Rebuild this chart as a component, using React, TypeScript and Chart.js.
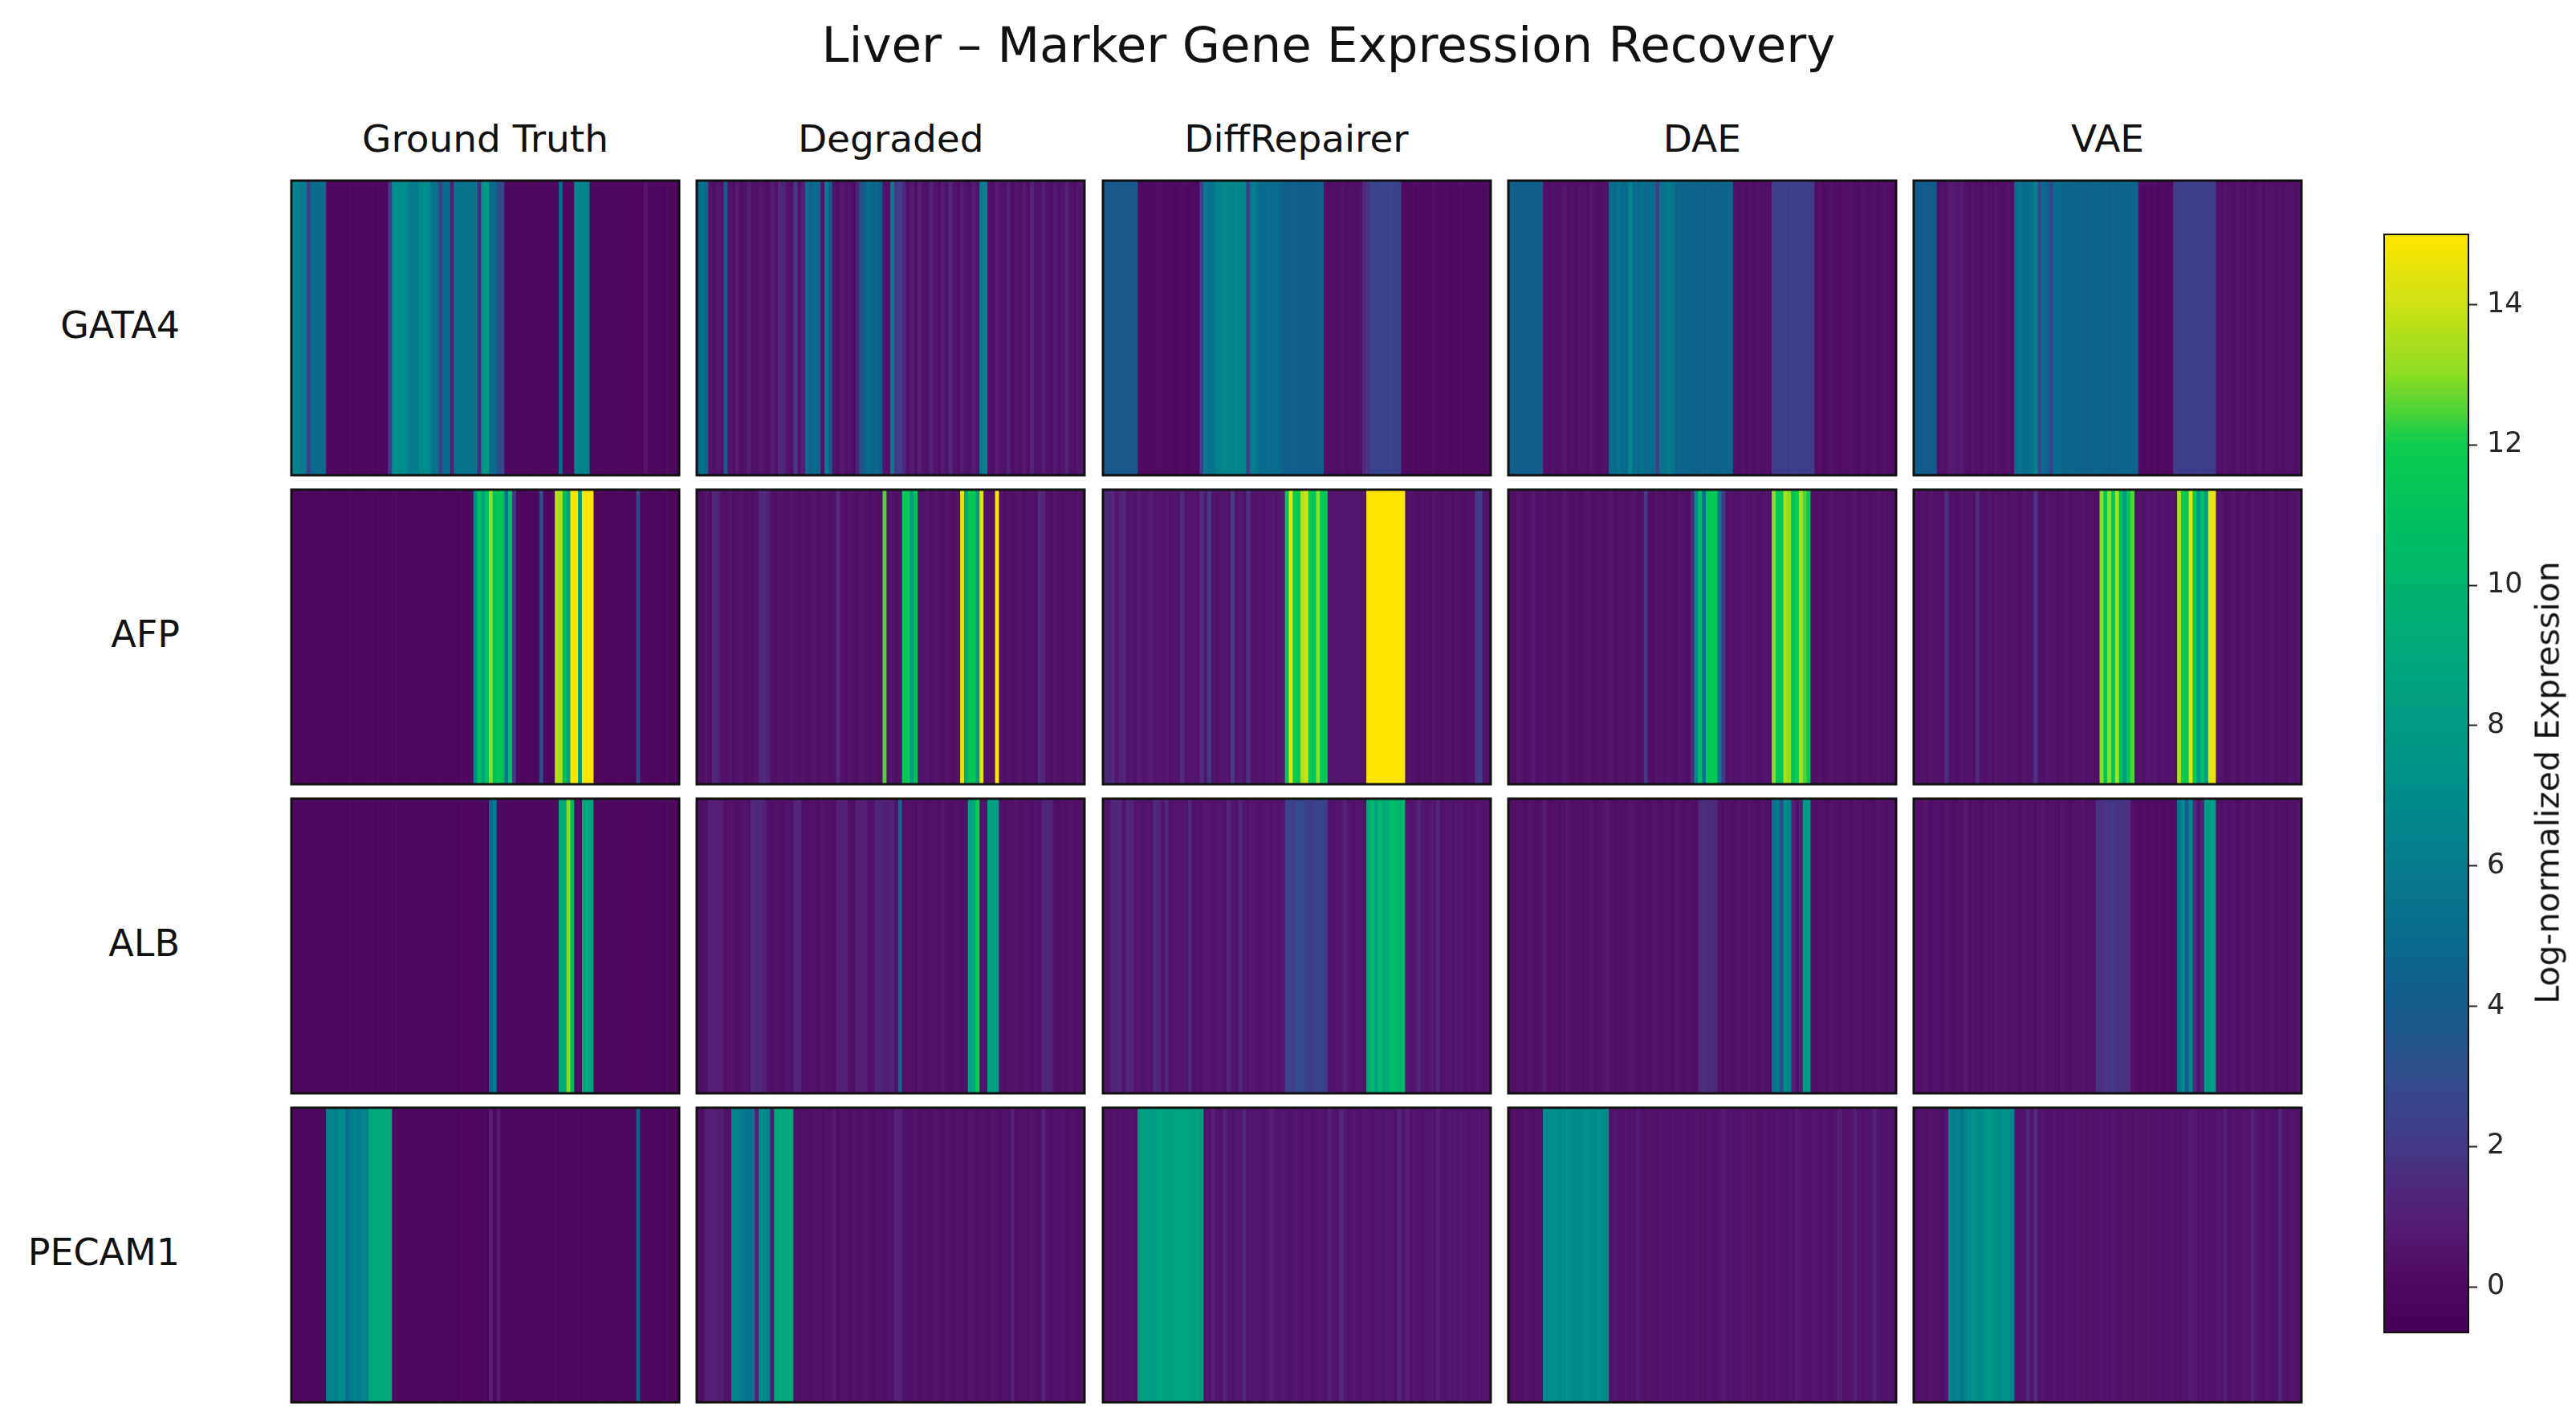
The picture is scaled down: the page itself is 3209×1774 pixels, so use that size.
import React, { useEffect, useRef } from "react";
import { Chart, registerables } from "chart.js";

Chart.register(...registerables);

// ---------------- text ----------------
const TITLE = "Liver – Marker Gene Expression Recovery";
const METHODS = ["Ground Truth", "Degraded", "DiffRepairer", "DAE", "VAE"];
const GENES = ["GATA4", "AFP", "ALB", "PECAM1"];
const COLORBAR_LABEL = "Log-normalized Expression";
const COLORBAR_TICKS = [0, 2, 4, 6, 8, 10, 12, 14];
const V_MIN = -0.65;
const V_MAX = 15;

// ---------------- data (one value per cell, 100 cells) ----------------
const GATA4_GROUND_TRUTH = [
  6.5, 6.5, 6, 6, 2.5, 5, 5, 5, 5, 0,
  0, 0, 0, 0, 0, 0, 0, 0, 0, 0,
  0, 0, 0, 0, 0, 2, 7, 7, 7, 7,
  6, 6, 6, 7, 7, 7, 5.5, 5.5, 2.5, 5,
  5, 1, 5.5, 5.5, 5.5, 5.5, 5.5, 5.5, 1.5, 7.5,
  8, 5, 5, 3, 3, 0, 0, 0, 0, 0,
  0, 0, 0, 0, 0, 0, 0, 0, 0, 5,
  0, 0, 0, 6.5, 6.5, 6.5, 6.5, 0, 0, 0,
  0, 0, 0, 0, 0, 0, 0, 0, 0, 0,
  0, 0.6, 0, 0, 0, 0, 0, 0, 0, 0,
];
const GATA4_DEGRADED = [
  5, 5.5, 5, 0.5, 0.3, 0.6, 0.4, 4, 0.5, 0.3,
  0.8, 0.3, 0.5, 1, 0.4, 0.3, 0.7, 0.5, 0.3, 0.9,
  0.4, 1.5, 1.2, 0.5, 0.3, 2, 0.5, 1, 5, 4.5,
  5, 4.5, 0.5, 6, 4, 0.5, 0.3, 0.8, 0.4, 0.6,
  0.3, 1.2, 3.5, 4.5, 5, 4.5, 5, 4, 0.5, 0.4,
  6, 2, 2.5, 1.5, 0.4, 0.8, 0.3, 1, 0.5, 0.4,
  1.2, 0.5, 0.3, 0.9, 0.4, 1.3, 0.5, 0.3, 0.8, 0.5,
  0.4, 0.9, 0.5, 6, 6.5, 0.5, 0.3, 0.9, 0.5, 0.4,
  1, 0.3, 0.6, 0.4, 0.8, 0.3, 1.2, 0.5, 0.4, 1,
  0.5, 0.3, 0.8, 0.4, 0.6, 1.1, 0.4, 0.3, 0.7, 0.5,
];
const GATA4_DIFFREPAIRER = [
  3.8, 3.8, 3.8, 3.8, 3.8, 3.8, 3.8, 3.8, 3.8, 0.2,
  0.1, 0.2, 0.1, 0.1, 0.2, 0.1, 0.1, 0.2, 0.1, 0.1,
  0.2, 0.1, 0.1, 0.2, 0.1, 2.5, 6, 5.5, 5.5, 6.5,
  6.5, 6.8, 6.5, 6.5, 6.8, 6.5, 6.5, 2.5, 6, 6,
  5, 5, 5.2, 5, 5, 5, 4.3, 4.3, 4.3, 4.3,
  4.3, 4.3, 4.3, 4.3, 4.3, 4.3, 4.3, 0.4, 0.3, 0.4,
  0.3, 0.4, 0.3, 0.3, 0.4, 0.3, 0.4, 1.5, 1.8, 2.5,
  2.5, 2.5, 2.5, 2.5, 2.5, 2.5, 2.3, 0.2, 0.1, 0.1,
  0.1, 0.2, 0.1, 0.1, 0.1, 0.2, 0.1, 0.1, 0.2, 0.1,
  0.1, 0.1, 0.2, 0.1, 0.1, 0.2, 0.1, 0.1, 0.1, 0.2,
];
const GATA4_DAE = [
  4.2, 4.2, 4.2, 4.2, 4.2, 4.2, 4.2, 4.2, 4.2, 0.4,
  0.3, 0.5, 0.3, 0.4, 0.6, 0.3, 0.4, 0.3, 0.5, 0.4,
  0.3, 0.6, 0.4, 0.3, 0.5, 0.4, 5, 5, 5.5, 5,
  5, 6.5, 5, 5, 5.5, 5, 5, 5, 2.5, 5.5,
  5.5, 6, 5.5, 4.5, 4.5, 4.6, 4.5, 4.5, 4.4, 4.5,
  4.5, 4.6, 4.5, 4.5, 4.4, 4.5, 4.5, 4.5, 0.4, 0.3,
  0.5, 0.3, 0.4, 0.3, 0.5, 0.3, 0.4, 0.3, 2.3, 2.3,
  2.4, 2.3, 2.2, 2.3, 2.4, 2.3, 2.3, 2.2, 2.3, 0.3,
  0.4, 0.2, 0.3, 0.5, 0.3, 0.2, 0.4, 0.3, 0.5, 0.3,
  0.2, 0.4, 0.3, 0.3, 0.5, 0.2, 0.3, 0.4, 0.3, 0.2,
];
const GATA4_VAE = [
  4, 4, 4, 4, 4, 4, 0.3, 0.5, 0.4, 0.8,
  0.8, 0.7, 0.8, 0.4, 0.3, 0.5, 0.4, 0.3, 0.6, 0.4,
  0.3, 0.5, 0.4, 0.3, 0.6, 0.4, 5, 5.5, 5, 5,
  5.5, 6.5, 3, 5, 4.5, 2.5, 5, 5, 4.5, 4.5,
  4.6, 4.5, 4.5, 4.4, 4.5, 4.5, 4.5, 4.6, 4.5, 4.5,
  4.4, 4.5, 4.5, 4.5, 4.6, 4.5, 4.5, 4.5, 0.2, 0.1,
  0.2, 0.1, 0.2, 0.1, 0.2, 0.1, 0.2, 2.3, 2.3, 2.4,
  2.3, 2.2, 2.3, 2.4, 2.3, 2.3, 2.2, 2.3, 0.4, 0.3,
  0.5, 0.4, 0.3, 0.6, 0.4, 0.3, 0.5, 0.3, 0.4, 0.6,
  0.3, 0.4, 0.5, 0.3, 0.4, 0.3, 0.5, 0.4, 0.3, 0.4,
];

const AFP_GROUND_TRUTH = [
  0, 0, 0, 0, 0, 0, 0, 0, 0, 0,
  0, 0, 0, 0, 0, 0, 0, 0, 0, 0,
  0, 0, 0, 0, 0, 0, 0, 0, 0, 0,
  0, 0, 0, 0, 0, 0, 0, 0, 0, 0,
  0, 0, 0, 0, 0, 0, 0, 7, 11, 8.5,
  11, 13, 11, 11.5, 11, 5.5, 11, 2, 0, 0,
  0, 0, 0, 0, 3, 0, 0, 0, 13.5, 13.5,
  11, 8.5, 15, 15, 8, 15, 15, 15, 0, 0,
  0, 0, 0, 0, 0, 0, 0, 0, 0, 2.5,
  0, 0, 0, 0, 0, 0, 0, 0, 0, 0,
];
const AFP_DEGRADED = [
  0.4, 0.3, 0.6, 0.3, 1.5, 1.3, 0.4, 0.3, 0.5, 0.3,
  0.4, 0.6, 0.3, 0.4, 0.3, 0.5, 1.3, 1.5, 1.2, 0.4,
  0.3, 0.5, 0.4, 0.3, 0.6, 0.4, 0.3, 0.5, 0.3, 0.4,
  0.6, 0.3, 0.4, 0.5, 0.3, 0.4, 1.4, 0.4, 0.3, 0.5,
  0.4, 0.3, 0.6, 0.4, 0.3, 0.5, 0.4, 0.3, 12.5, 0.4,
  0.5, 0.3, 0.4, 11.5, 11.5, 8, 11, 0.5, 0.4, 0.6,
  0.3, 0.5, 0.4, 0.3, 0.6, 0.4, 0.3, 0.5, 14.5, 9,
  11.5, 11.5, 8, 14.5, 0.5, 0.4, 0.3, 15, 0.4, 0.3,
  0.5, 0.3, 0.4, 0.6, 0.3, 0.4, 0.5, 0.3, 1.5, 1.3,
  0.4, 0.3, 0.6, 0.4, 0.3, 0.5, 0.4, 0.3, 0.6, 0.4,
];
const AFP_DIFFREPAIRER = [
  1.5, 1.3, 1.4, 0.6, 1.2, 1.3, 0.5, 0.6, 0.5, 0.8,
  0.5, 0.6, 0.9, 0.5, 0.6, 0.5, 0.7, 0.5, 0.6, 0.5,
  1.4, 0.5, 0.6, 0.7, 0.5, 1.5, 0.6, 2, 0.6, 0.5,
  0.7, 0.6, 0.5, 2, 0.6, 0.8, 0.5, 1.8, 0.6, 0.5,
  0.6, 0.5, 0.7, 0.6, 0.5, 0.6, 0.8, 11.5, 14.5, 12,
  11.5, 13.5, 14, 12, 11, 13, 11.5, 11.5, 0.7, 0.6,
  0.7, 0.6, 0.6, 0.7, 0.6, 0.7, 0.6, 0.7, 15, 15,
  15, 15, 15, 15, 15, 15, 15, 15, 0.4, 0.5,
  0.4, 0.3, 0.5, 0.4, 0.3, 0.5, 0.4, 0.3, 0.5, 0.4,
  0.3, 0.5, 0.4, 0.3, 0.5, 0.4, 2, 2, 0.5, 0.4,
];
const AFP_DAE = [
  0.5, 0.3, 0.6, 0.4, 0.3, 0.5, 0.8, 0.3, 0.4, 0.6,
  0.3, 0.5, 0.4, 0.3, 0.7, 0.4, 0.3, 0.5, 0.3, 0.4,
  0.6, 0.3, 0.4, 0.5, 0.3, 0.4, 0.6, 0.3, 0.4, 0.5,
  0.3, 0.4, 0.6, 0.3, 0.4, 2, 0.4, 0.3, 0.5, 0.4,
  0.3, 0.6, 0.4, 0.3, 0.5, 0.4, 0.3, 1.5, 7, 11,
  5.5, 11.5, 11.5, 11.5, 6, 2, 0.5, 0.6, 0.5, 0.4,
  0.6, 0.5, 0.4, 0.6, 0.5, 0.4, 0.6, 0.5, 13, 11.5,
  11.5, 13.5, 13, 11, 12, 13.5, 12.5, 11.5, 0.4, 0.3,
  0.5, 0.3, 0.4, 0.6, 0.3, 0.4, 0.5, 0.3, 0.4, 0.6,
  0.3, 0.4, 0.5, 0.3, 0.4, 0.6, 0.3, 0.4, 0.5, 0.3,
];
const AFP_VAE = [
  0.6, 0.4, 0.5, 0.3, 0.6, 0.4, 0.5, 0.3, 1.5, 0.4,
  0.5, 0.3, 0.6, 0.4, 0.5, 0.3, 1.4, 0.5, 0.4, 0.6,
  0.3, 0.5, 0.4, 0.6, 0.3, 0.5, 0.4, 0.3, 0.6, 0.4,
  0.5, 1.8, 0.4, 0.3, 0.6, 0.4, 0.5, 0.3, 0.4, 0.6,
  0.3, 0.5, 0.4, 0.6, 0.3, 0.5, 0.4, 0.3, 13, 11.5,
  13, 11.5, 13.5, 11, 8, 11.5, 12.5, 0.5, 0.6, 0.5,
  0.6, 0.5, 0.6, 0.5, 0.6, 0.5, 0.6, 0.5, 13.5, 12,
  11.5, 14.5, 12, 8, 11, 8, 14.5, 14.5, 0.4, 0.5,
  0.3, 0.4, 0.6, 0.3, 0.5, 0.4, 0.3, 0.6, 0.4, 0.5,
  0.3, 0.4, 0.6, 0.3, 0.5, 0.4, 0.3, 0.5, 0.4, 0.6,
];

const ALB_GROUND_TRUTH = [
  0, 0, 0, 0, 0, 0, 0, 0, 0, 0,
  0, 0, 0, 0, 0, 0, 0, 0, 0, 0,
  0, 0, 0, 0, 0, 0, 0, 0, 0, 0,
  0, 0, 0, 0, 0, 0, 0, 0, 0, 0,
  0, 0, 0, 0, 0, 0, 0, 0, 0, 0,
  0, 5, 6, 0, 0, 0, 0, 0, 0, 0,
  0, 0, 0, 0, 0, 0, 0, 0, 0, 9,
  9, 13, 10.5, 0, 0, 9, 9, 8.5, 0, 0,
  0, 0, 0, 0, 0, 0, 0, 0, 0, 0,
  0, 0, 0, 0, 0, 0, 0, 0, 0, 0,
];
const ALB_DEGRADED = [
  0.4, 0.3, 0.5, 1, 1.1, 1, 0.9, 0.3, 0.4, 0.5,
  0.3, 0.4, 0.6, 0.4, 1.5, 1.3, 1.5, 1.2, 0.4, 0.3,
  0.5, 0.4, 0.3, 0.6, 0.4, 1.2, 1.3, 0.4, 0.3, 0.5,
  0.4, 0.3, 0.6, 0.4, 0.5, 0.3, 1, 1.1, 1, 0.4,
  0.3, 1, 1.1, 1, 0.4, 0.5, 1.2, 1.3, 1.2, 1.1,
  1.2, 0.4, 5, 0.3, 0.5, 0.4, 0.3, 0.6, 0.4, 0.3,
  0.5, 0.4, 0.3, 0.6, 0.4, 0.3, 0.5, 0.4, 0.3, 0.5,
  8.5, 9, 12, 0.5, 0.5, 8.5, 8.5, 8, 0.4, 0.3,
  0.5, 0.4, 0.6, 0.3, 0.4, 0.5, 0.3, 0.6, 0.4, 1.2,
  1.3, 1.2, 0.4, 0.3, 0.5, 0.4, 0.6, 0.3, 0.4, 0.5,
];
const ALB_DIFFREPAIRER = [
  0.6, 0.5, 1.3, 1.4, 1.3, 0.6, 1.3, 1.2, 0.5, 0.6,
  0.5, 0.7, 0.5, 1.4, 1.3, 0.6, 1.5, 0.5, 0.6, 0.7,
  0.5, 0.6, 1.3, 0.5, 0.6, 0.5, 0.7, 0.6, 0.5, 0.6,
  0.7, 0.5, 1.2, 0.6, 0.5, 1.3, 0.6, 0.5, 0.7, 0.6,
  0.5, 0.6, 0.7, 0.5, 0.6, 0.5, 0.7, 2.5, 2.6, 2.4,
  3, 2.8, 2.5, 2.2, 2.3, 2.5, 2.6, 2.4, 0.6, 0.5,
  0.7, 0.6, 1.2, 0.6, 0.5, 0.7, 0.6, 0.5, 9, 10.5,
  8.5, 10.5, 9, 9.5, 10.5, 10.5, 10, 10.5, 0.6, 0.5,
  0.7, 1.3, 0.6, 0.5, 0.7, 0.6, 1.3, 0.5, 0.6, 0.7,
  0.5, 0.6, 0.7, 0.5, 0.6, 0.5, 0.7, 0.6, 0.5, 0.6,
];
const ALB_DAE = [
  0.4, 0.3, 0.5, 0.4, 0.3, 0.6, 0.4, 0.3, 0.5, 0.8,
  0.3, 0.4, 0.5, 0.3, 0.4, 0.6, 0.3, 0.4, 0.5, 0.3,
  0.4, 0.6, 0.3, 0.4, 0.5, 0.8, 0.4, 0.3, 0.5, 0.4,
  0.3, 0.6, 0.4, 0.3, 0.5, 0.4, 0.3, 0.6, 0.4, 0.3,
  0.5, 0.4, 0.3, 0.6, 0.4, 0.3, 0.5, 0.4, 0.3, 1.4,
  1.6, 1.5, 1.6, 1.4, 0.4, 0.3, 0.5, 0.4, 0.3, 0.6,
  0.4, 0.3, 0.5, 0.4, 0.3, 0.6, 0.4, 0.3, 5.5, 6,
  3, 7, 6.5, 1, 0.5, 1, 8, 8, 0.4, 0.3,
  0.5, 0.4, 0.3, 0.6, 0.4, 0.3, 0.5, 0.4, 0.3, 0.6,
  0.4, 0.3, 0.5, 0.4, 0.3, 0.6, 0.4, 0.3, 0.5, 0.4,
];
const ALB_VAE = [
  0.5, 0.3, 0.4, 0.6, 0.3, 0.5, 0.4, 0.3, 0.6, 0.4,
  0.3, 0.5, 0.4, 0.8, 0.3, 0.5, 0.4, 0.3, 0.6, 0.4,
  0.3, 0.5, 0.4, 0.6, 0.3, 0.5, 0.4, 0.3, 0.6, 0.4,
  0.5, 0.3, 0.4, 0.6, 0.3, 0.5, 0.4, 0.3, 0.6, 0.4,
  0.3, 0.5, 0.4, 0.6, 0.3, 0.5, 0.4, 1.8, 1.7, 1.9,
  1.8, 2, 1.7, 1.8, 1.9, 1.7, 0.4, 0.3, 0.2, 0.3,
  0.2, 0.3, 0.2, 0.3, 0.2, 0.3, 0.2, 0.3, 5.5, 7,
  4, 7, 1.5, 0.5, 1, 8, 8, 8, 0.4, 0.3,
  0.5, 0.4, 0.6, 0.3, 0.5, 0.4, 0.3, 0.6, 0.4, 0.5,
  0.3, 0.4, 0.6, 0.3, 0.5, 0.4, 0.3, 0.5, 0.4, 0.6,
];

const PECAM1_GROUND_TRUTH = [
  0, 0, 0, 0, 0, 0, 0, 0, 0, 6.5,
  6.5, 6, 7, 7, 5, 6, 6.5, 6, 6.5, 6.5,
  9, 9, 9, 9, 9, 9, 0, 0, 0, 0,
  0, 0, 0, 0, 0, 0, 0, 0, 0, 0,
  0, 0, 0, 0, 0, 0, 0, 0, 0, 0,
  0, 1, 0, 0.8, 0, 0, 0, 0, 0, 0,
  0, 0, 0, 0, 0, 0, 0, 0, 0, 0,
  0, 0, 0, 0, 0, 0, 0, 0, 0, 0,
  0, 0, 0, 0, 0, 0, 0, 0, 0, 4.5,
  0, 0, 0, 0, 0, 0, 0, 0, 0, 0,
];
const PECAM1_DEGRADED = [
  0.4, 0.3, 1, 1.1, 1, 0.9, 1, 0.4, 0.3, 6.5,
  6.5, 6, 5.5, 5.5, 5.5, 1, 7, 7, 6.5, 0.8,
  9, 9, 9, 9, 9, 0.4, 0.3, 0.5, 0.4, 0.3,
  0.6, 0.4, 0.3, 0.5, 0.4, 0.8, 0.3, 0.5, 0.4, 0.3,
  0.5, 0.4, 0.3, 0.6, 0.4, 0.3, 0.5, 0.4, 0.3, 0.6,
  0.4, 1.2, 1.1, 0.5, 0.3, 0.4, 0.6, 0.3, 0.5, 0.4,
  0.3, 0.5, 0.4, 0.3, 0.6, 0.4, 0.3, 0.5, 0.4, 0.3,
  0.6, 0.4, 0.3, 0.5, 0.4, 0.3, 0.6, 0.4, 0.3, 0.5,
  0.4, 1.1, 0.3, 0.5, 0.4, 0.3, 0.6, 0.4, 0.3, 1.2,
  0.4, 0.3, 0.5, 0.4, 0.6, 0.3, 0.5, 0.4, 0.3, 0.5,
];
const PECAM1_DIFFREPAIRER = [
  0.5, 0.6, 0.4, 0.5, 0.6, 0.5, 0.4, 0.6, 0.5, 8,
  8.5, 8.5, 8, 8, 8.5, 8.5, 8.5, 8.3, 8.5, 8.5,
  8.5, 8.8, 8.5, 8.3, 8.5, 8.3, 0.6, 0.5, 1, 0.6,
  0.5, 1.2, 0.6, 0.5, 0.7, 0.6, 1.3, 0.5, 0.6, 0.7,
  0.6, 0.5, 0.7, 1, 0.6, 0.5, 0.7, 0.6, 0.5, 0.7,
  0.6, 0.5, 0.7, 0.6, 0.5, 0.7, 0.6, 0.5, 1.2, 0.6,
  0.5, 1.4, 0.6, 0.5, 0.7, 0.6, 0.5, 0.7, 0.6, 0.5,
  0.7, 0.6, 0.5, 0.7, 0.6, 0.5, 1.3, 0.6, 1, 0.5,
  0.7, 0.6, 0.5, 0.7, 0.6, 0.5, 1, 0.6, 0.5, 0.7,
  0.6, 0.5, 0.7, 0.6, 0.5, 0.7, 0.6, 0.5, 0.7, 0.6,
];
const PECAM1_DAE = [
  0.3, 0.5, 0.4, 0.3, 0.6, 0.4, 0.3, 0.5, 0.4, 7,
  7, 7.2, 7, 6.8, 7, 7.3, 7, 7, 6.8, 7,
  7.2, 7, 7, 7.3, 7, 6.8, 0.4, 0.6, 0.5, 0.4,
  0.6, 0.5, 0.4, 0.9, 0.5, 0.4, 0.6, 0.5, 0.4, 0.6,
  0.5, 0.4, 0.6, 0.5, 0.4, 0.6, 0.5, 0.4, 0.6, 0.5,
  0.4, 0.6, 0.5, 0.4, 0.6, 0.8, 0.4, 0.6, 0.5, 0.4,
  0.6, 0.5, 0.4, 0.6, 0.5, 0.4, 0.6, 0.5, 0.4, 0.6,
  0.5, 0.4, 0.6, 0.5, 0.8, 0.6, 0.5, 0.4, 0.6, 0.5,
  0.4, 0.6, 0.5, 0.4, 0.6, 1, 0.5, 0.4, 0.6, 1.1,
  0.5, 0.4, 0.6, 0.5, 1.2, 0.6, 0.5, 0.4, 0.6, 0.5,
];
const PECAM1_VAE = [
  0.4, 0.6, 0.5, 0.3, 0.6, 0.4, 0.5, 0.3, 0.6, 6.5,
  6, 6.5, 5.5, 6.5, 7, 7.5, 7, 7, 7.5, 8,
  7.5, 7, 7, 7.5, 7, 6.5, 0.5, 0.4, 0.6, 1.4,
  0.5, 1.5, 0.4, 0.6, 0.5, 0.4, 0.6, 0.5, 0.4, 0.6,
  0.5, 0.4, 0.6, 0.5, 0.4, 0.6, 0.5, 0.4, 0.6, 0.5,
  0.4, 0.6, 0.5, 0.4, 0.6, 0.5, 0.4, 0.6, 0.5, 0.4,
  0.6, 0.5, 0.4, 0.6, 0.5, 0.4, 0.6, 0.5, 0.4, 0.6,
  0.5, 0.8, 0.6, 0.5, 0.4, 0.6, 0.5, 0.4, 0.6, 0.5,
  1, 0.4, 0.6, 0.5, 0.4, 0.6, 0.5, 1.2, 0.6, 0.5,
  0.4, 0.6, 0.5, 0.4, 1.3, 0.5, 0.4, 0.6, 0.5, 0.4,
];

const GRID: number[][][] = [
  [GATA4_GROUND_TRUTH, GATA4_DEGRADED, GATA4_DIFFREPAIRER, GATA4_DAE, GATA4_VAE],
  [AFP_GROUND_TRUTH, AFP_DEGRADED, AFP_DIFFREPAIRER, AFP_DAE, AFP_VAE],
  [ALB_GROUND_TRUTH, ALB_DEGRADED, ALB_DIFFREPAIRER, ALB_DAE, ALB_VAE],
  [PECAM1_GROUND_TRUTH, PECAM1_DEGRADED, PECAM1_DIFFREPAIRER, PECAM1_DAE, PECAM1_VAE],
];

// ---------------- style ----------------
const FONT = "'DejaVu Sans', 'Liberation Sans', sans-serif";
const COLOR_STOPS: [number, number[]][] = [
  [-0.65, [70, 0, 86]],
  [0, [78, 8, 94]],
  [1, [84, 30, 115]],
  [2, [68, 56, 136]],
  [3, [48, 76, 141]],
  [4, [20, 92, 140]],
  [5, [10, 108, 140]],
  [6, [5, 124, 140]],
  [7, [0, 140, 138]],
  [8, [0, 155, 132]],
  [9, [0, 168, 122]],
  [10, [0, 180, 110]],
  [11, [0, 194, 92]],
  [12, [12, 204, 80]],
  [12.5, [80, 212, 55]],
  [13, [140, 220, 35]],
  [14, [205, 226, 20]],
  [15, [255, 230, 0]],
];

function colorFor(v: number): string {
  const s = COLOR_STOPS;
  if (v <= s[0][0]) return `rgb(${s[0][1].join(",")})`;
  for (let i = 1; i < s.length; i++) {
    if (v <= s[i][0]) {
      const t = (v - s[i - 1][0]) / (s[i][0] - s[i - 1][0]);
      const a = s[i - 1][1];
      const b = s[i][1];
      const c = a.map((x, k) => Math.round(x + (b[k] - x) * t));
      return `rgb(${c.join(",")})`;
    }
  }
  return `rgb(${s[s.length - 1][1].join(",")})`;
}

const PANEL_W = 483;
const PANEL_H = 367;
const PANEL_LEFT0 = 363;
const PANEL_STEP_X = 505.25;
const PANEL_TOP0 = 225;
const PANEL_STEP_Y = 385;
const PAD = 3;

const framePlugin = {
  id: "frame",
  afterDatasetsDraw(chart: any, _args: any, opts: any) {
    const { ctx, chartArea: a } = chart;
    ctx.save();
    ctx.strokeStyle = "#111";
    ctx.lineWidth = opts?.width ?? 3;
    ctx.strokeRect(a.left, a.top, a.right - a.left, a.bottom - a.top);
    ctx.restore();
  },
};

function Panel({ values, left, top }: { values: number[]; left: number; top: number }) {
  const ref = useRef<HTMLCanvasElement>(null);
  useEffect(() => {
    if (!ref.current) return;
    const chart = new Chart(ref.current, {
      type: "bar",
      data: {
        labels: values.map((_, i) => String(i)),
        datasets: [
          {
            data: values.map(() => [0, 1]) as any,
            backgroundColor: values.map(colorFor),
            borderWidth: 0,
            barPercentage: 1,
            categoryPercentage: 1,
          },
        ],
      },
      options: {
        animation: false,
        responsive: false,
        devicePixelRatio: 1,
        layout: { padding: PAD },
        plugins: { legend: { display: false }, tooltip: { enabled: false }, frame: { width: 3 } } as any,
        scales: {
          x: { display: false },
          y: { display: false, min: 0, max: 1 },
        },
      },
      plugins: [framePlugin],
    });
    return () => chart.destroy();
  }, [values]);
  return (
    <canvas
      ref={ref}
      width={PANEL_W + 2 * PAD}
      height={PANEL_H + 2 * PAD}
      style={{
        position: "absolute",
        left: left - PAD,
        top: top - PAD,
        width: PANEL_W + 2 * PAD,
        height: PANEL_H + 2 * PAD,
      }}
    />
  );
}

const CB_LEFT = 2970;
const CB_TOP = 283;
const CB_W = 105;
const CB_H = 1386;
const CB_AXIS_W = 100;
const CB_PAD_V = 24;

function Colorbar() {
  const ref = useRef<HTMLCanvasElement>(null);
  useEffect(() => {
    if (!ref.current) return;
    const chart = new Chart(ref.current, {
      type: "bar",
      data: {
        labels: [""],
        datasets: [
          {
            data: [[V_MIN, V_MAX]] as any,
            backgroundColor: (c: any) => {
              const ch = c.chart;
              const ys = ch.scales?.y;
              if (!ys || !ch.chartArea) return "transparent";
              const g = ch.ctx.createLinearGradient(0, ys.getPixelForValue(V_MIN), 0, ys.getPixelForValue(V_MAX));
              COLOR_STOPS.forEach(([v, col]) => g.addColorStop((v - V_MIN) / (V_MAX - V_MIN), `rgb(${col.join(",")})`));
              return g;
            },
            borderWidth: 0,
            barPercentage: 1,
            categoryPercentage: 1,
          },
        ],
      },
      options: {
        animation: false,
        responsive: false,
        devicePixelRatio: 1,
        layout: { padding: { top: CB_PAD_V, bottom: CB_PAD_V, left: PAD, right: 0 } },
        plugins: { legend: { display: false }, tooltip: { enabled: false }, frame: { width: 2 } } as any,
        scales: {
          x: { display: false },
          y: {
            position: "right",
            min: V_MIN,
            max: V_MAX,
            afterBuildTicks: (s: any) => {
              s.ticks = COLORBAR_TICKS.map((v) => ({ value: v }));
            },
            afterFit: (s: any) => {
              s.width = CB_AXIS_W;
            },
            grid: {
              drawOnChartArea: false,
              drawTicks: true,
              tickLength: 11,
              tickColor: "#222",
              tickWidth: 2,
            } as any,
            border: { display: false },
            ticks: {
              padding: 12,
              color: "#262626",
              font: { family: FONT, size: 35 },
            },
          },
        },
      },
      plugins: [framePlugin],
    });
    return () => chart.destroy();
  }, []);
  const w = PAD + CB_W + CB_AXIS_W;
  const h = CB_H + 2 * CB_PAD_V;
  return (
    <canvas
      ref={ref}
      width={w}
      height={h}
      style={{ position: "absolute", left: CB_LEFT - PAD, top: CB_TOP - CB_PAD_V, width: w, height: h }}
    />
  );
}

const textBase: React.CSSProperties = {
  position: "absolute",
  fontFamily: FONT,
  color: "#111",
  whiteSpace: "nowrap",
  lineHeight: 1,
};

export default function App() {
  return (
    <div
      style={{
        position: "absolute",
        left: 0,
        top: 0,
        width: 3209,
        height: 1774,
        background: "#fff",
        overflow: "hidden",
      }}
    >
      <div style={{ ...textBase, left: 1655, top: 55, fontSize: 61, transform: "translate(-50%, -50%)" }}>{TITLE}</div>
      {METHODS.map((m, i) => (
        <div
          key={m}
          style={{
            ...textBase,
            left: PANEL_LEFT0 + PANEL_STEP_X * i + PANEL_W / 2,
            top: 172,
            fontSize: 47,
            transform: "translate(-50%, -50%)",
          }}
        >
          {m}
        </div>
      ))}
      {GENES.map((g, j) => (
        <div
          key={g}
          style={{
            ...textBase,
            right: 3209 - 224,
            top: PANEL_TOP0 + PANEL_STEP_Y * j + PANEL_H / 2 - 4,
            fontSize: 46,
            transform: "translateY(-50%)",
          }}
        >
          {g}
        </div>
      ))}
      {GRID.map((row, j) =>
        row.map((vals, i) => (
          <Panel
            key={`${j}-${i}`}
            values={vals}
            left={PANEL_LEFT0 + PANEL_STEP_X * i}
            top={PANEL_TOP0 + PANEL_STEP_Y * j}
          />
        ))
      )}
      <Colorbar />
      <div
        style={{
          ...textBase,
          left: 3174,
          top: 975,
          fontSize: 41,
          transform: "translate(-50%, -50%) rotate(-90deg)",
        }}
      >
        {COLORBAR_LABEL}
      </div>
    </div>
  );
}
